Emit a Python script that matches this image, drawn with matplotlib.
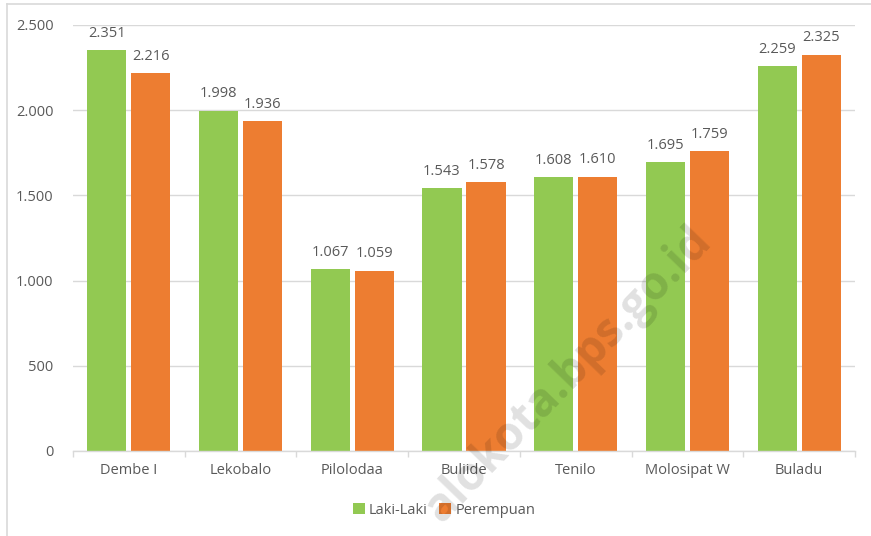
import numpy as np
import matplotlib.pyplot as plt

# data
desa = ["Dembe I", "Lekobalo", "Pilolodaa", "Buliide", "Tenilo", "Molosipat W", "Buladu"]
laki = [2351, 1998, 1067, 1543, 1608, 1695, 2259]
perempuan = [2216, 1936, 1059, 1578, 1610, 1759, 2325]
yticks = [0, 500, 1000, 1500, 2000, 2500]

def fmt(v):
    # dot as thousands separator
    return "{:,}".format(v).replace(",", ".")

plt.rcParams['font.family'] = ['Open Sans', 'DejaVu Sans']
txt = '#595959'
fs = 10.5

fig = plt.figure(figsize=(8.71, 5.36), dpi=100)
ax = fig.add_axes([0.0838, 0.1586, 0.8978, 0.7948])

x = np.arange(len(desa))
w = 0.35
off = 0.197
b1 = ax.bar(x - off, laki, w, color='#92C952', label='Laki-Laki', zorder=2)
b2 = ax.bar(x + off, perempuan, w, color='#ED7D31', label='Perempuan', zorder=2)

for xi, v in zip(x, laki):
    ax.text(xi - off, v + 55, fmt(v), ha='center', va='bottom', fontsize=fs, color=txt)
for xi, v in zip(x, perempuan):
    ax.text(xi + off, v + 55, fmt(v), ha='center', va='bottom', fontsize=fs, color=txt)

ax.set_xlim(-0.5, len(desa) - 0.5)
ax.set_ylim(0, 2500)
ax.set_yticks(yticks)
ax.set_yticklabels([fmt(v) for v in yticks])
ax.set_xticks(x)
ax.set_xticklabels(desa)
ax.set_xticks(np.arange(len(desa) + 1) - 0.5, minor=True)
ax.tick_params(axis='x', which='major', length=0, pad=9, labelsize=fs, labelcolor=txt)
ax.tick_params(axis='x', which='minor', length=4, color='#D9D9D9', width=1)
ax.tick_params(axis='y', length=0, pad=14, labelsize=fs, labelcolor=txt)

ax.grid(axis='y', color='#D9D9D9', linewidth=1, zorder=0)
for s in ['top', 'right', 'left']:
    ax.spines[s].set_visible(False)
ax.spines['bottom'].set_color('#D9D9D9')
ax.spines['bottom'].set_linewidth(1)

leg = fig.legend(handles=[b1, b2], loc='center', bbox_to_anchor=(0.51, 0.048), ncol=2,
                 frameon=False, fontsize=fs, handlelength=0.8, handleheight=0.8,
                 handletextpad=0.3, columnspacing=0.8)
for t in leg.get_texts():
    t.set_color(txt)

# outer frame (partially visible in the reference)
fig.add_artist(plt.Line2D([0.0075, 0.0075], [0, 0.993], color='#D9D9D9', lw=1.2))
fig.add_artist(plt.Line2D([0.0075, 1], [0.993, 0.993], color='#D9D9D9', lw=1.2))

# watermark (visible part)
fig.text(0.652, 0.30, "alokota.bps.go.id", rotation=46, ha='center', va='center',
         fontsize=33, fontweight='bold', color='black', alpha=0.12, zorder=10)

fig.savefig('out.png', dpi=100)
